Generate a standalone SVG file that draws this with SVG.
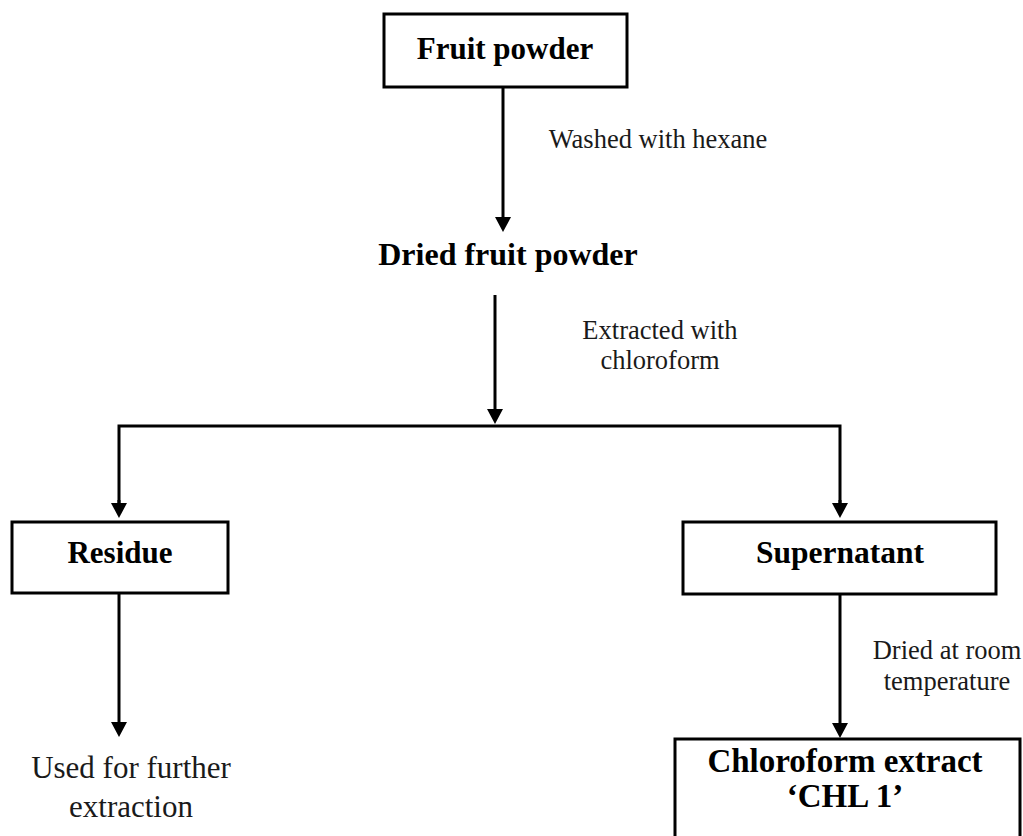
<svg xmlns="http://www.w3.org/2000/svg" width="1023" height="836" viewBox="0 0 1023 836">
<style>
.box{fill:#fff;stroke:#000;stroke-width:3}
.ln{fill:none;stroke:#000;stroke-width:3}
.b{font-family:"Liberation Serif",serif;font-weight:bold;font-size:31px;fill:#000;text-anchor:middle}
.r{font-family:"Liberation Serif",serif;font-size:26.5px;fill:#1a1a1a;text-anchor:middle}
.r2{font-family:"Liberation Serif",serif;font-size:31px;fill:#1a1a1a;text-anchor:middle}
</style>
<defs>
<marker id="ah" viewBox="0 0 15 16" refX="5" refY="8" markerWidth="15" markerHeight="16" markerUnits="userSpaceOnUse" orient="auto">
<path d="M0,0 L15,8 L0,16 z" fill="#000"/>
</marker>
</defs>
<rect width="1023" height="836" fill="#fff"/>
<g id="connectors">
<line class="ln" x1="503" y1="87" x2="503" y2="222" marker-end="url(#ah)"/>
<line class="ln" x1="495" y1="295" x2="495" y2="414" marker-end="url(#ah)"/>
<polyline class="ln" points="119,508 119,426 840,426 840,508" />
<line class="ln" x1="119" y1="500" x2="119" y2="508" marker-end="url(#ah)"/>
<line class="ln" x1="840" y1="500" x2="840" y2="508" marker-end="url(#ah)"/>
<line class="ln" x1="119" y1="594" x2="119" y2="727" marker-end="url(#ah)"/>
<line class="ln" x1="840" y1="594" x2="840" y2="728" marker-end="url(#ah)"/>
<text class="r" x="658" y="148">Washed with hexane</text>
<text class="r" x="660" y="339">Extracted with</text>
<text class="r" x="660" y="369">chloroform</text>
<text class="r" x="947" y="659">Dried at room</text>
<text class="r" x="947" y="690">temperature</text>
</g>
<g id="fruit-powder">
<rect class="box" x="384" y="14" width="243" height="73"/>
<text class="b" x="505" y="59">Fruit powder</text>
</g>
<g id="dried-fruit-powder">
<text class="b" x="508" y="265" style="font-size:32px">Dried fruit powder</text>
</g>
<g id="residue">
<rect class="box" x="12" y="522" width="216" height="71"/>
<text class="b" x="120" y="563">Residue</text>
</g>
<g id="supernatant">
<rect class="box" x="683" y="522" width="313" height="72"/>
<text class="b" x="840" y="563" style="font-size:31.5px">Supernatant</text>
</g>
<g id="used-further">
<text class="r2" x="131" y="778">Used for further</text>
<text class="r2" x="131" y="817">extraction</text>
</g>
<g id="chloroform-extract">
<rect class="box" x="675" y="739" width="345" height="120"/>
<text class="b" x="845" y="772" style="font-size:33px">Chloroform extract</text>
<text class="b" x="845" y="807" style="font-size:33px">‘CHL 1’</text>
</g>
</svg>
